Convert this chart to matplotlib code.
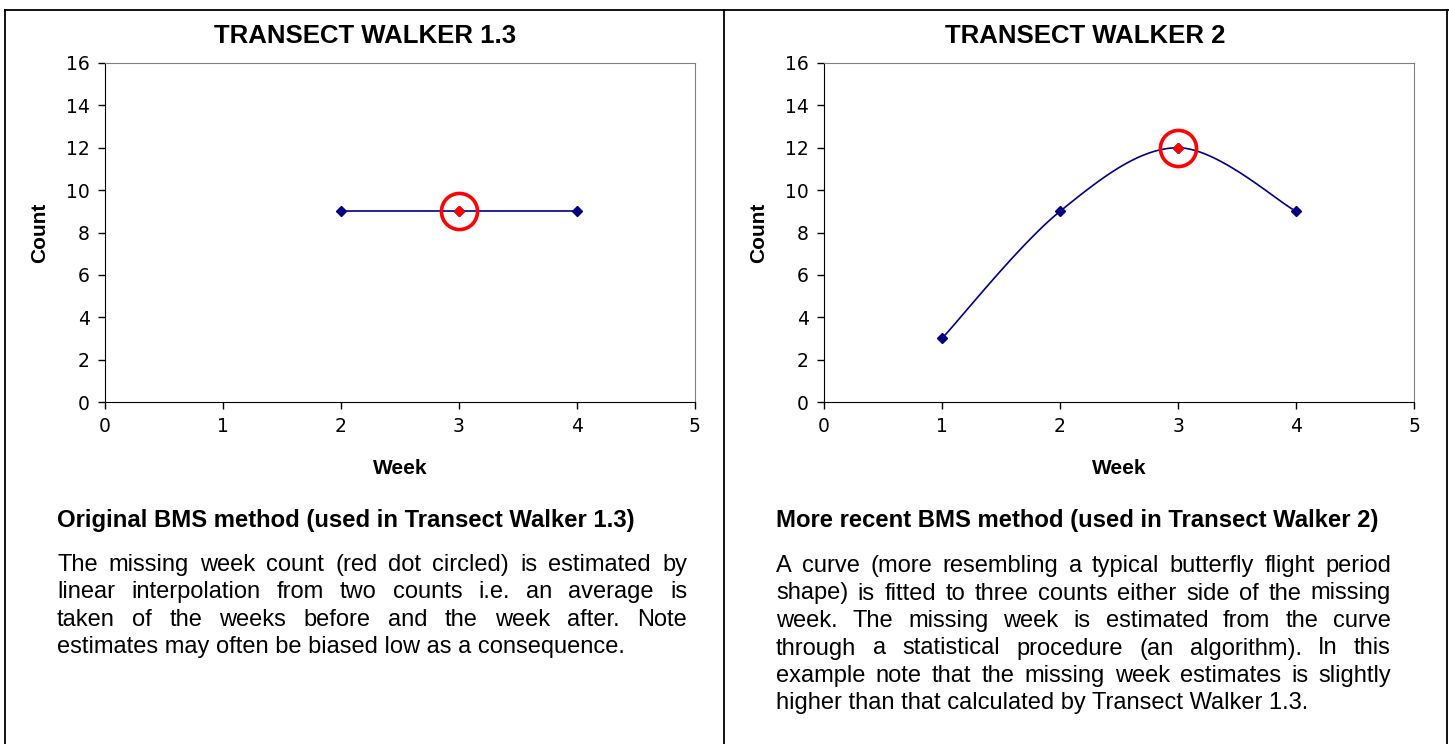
import matplotlib
matplotlib.use('Agg')
import matplotlib.pyplot as plt
import numpy as np
from matplotlib.lines import Line2D

plt.rcParams['font.family'] = ['Liberation Sans', 'DejaVu Sans']

# data
weeks_old = [2, 3, 4]
counts_old = [9, 9, 9]
weeks_new = [1, 2, 3, 4]
counts_new = [3, 9, 12, 9]
missing_week = 3
missing_old = 9
missing_new = 12

titles = ['TRANSECT WALKER 1.3', 'TRANSECT WALKER 2']
headings = ['Original BMS method (used in Transect Walker 1.3)',
            'More recent BMS method (used in Transect Walker 2)']
body_left = ['The missing week count (red dot circled) is estimated by',
             'linear interpolation from two counts i.e. an average is',
             'taken of the weeks before and the week after. Note',
             'estimates may often be biased low as a consequence.']
body_right = ['A curve (more resembling a typical butterfly flight period',
              'shape) is fitted to three counts either side of the missing',
              'week. The missing week is estimated from the curve',
              'through a statistical procedure (an algorithm). In this',
              'example note that the missing week estimates is slightly',
              'higher than that calculated by Transect Walker 1.3.']

W, H = 1449, 744
fig = plt.figure(figsize=(W / 100, H / 100), dpi=100)
navy = '#000080'


def smooth(x, y, n=30):
    # excel-like smoothed line (bezier through points)
    x = np.asarray(x, float)
    y = np.asarray(y, float)
    px = np.concatenate([[x[0]], x, [x[-1]]])
    py = np.concatenate([[y[0]], y, [y[-1]]])
    xs, ys = [], []
    t = np.linspace(0, 1, n)
    for i in range(1, len(px) - 2):
        p0 = np.array([px[i], py[i]])
        p3 = np.array([px[i + 1], py[i + 1]])
        p1 = p0 + (np.array([px[i + 1], py[i + 1]]) - np.array([px[i - 1], py[i - 1]])) / 6
        p2 = p3 - (np.array([px[i + 2], py[i + 2]]) - np.array([px[i], py[i]])) / 6
        b = ((1 - t) ** 3)[:, None] * p0 + (3 * (1 - t) ** 2 * t)[:, None] * p1 \
            + (3 * (1 - t) * t ** 2)[:, None] * p2 + (t ** 3)[:, None] * p3
        xs.extend(b[:, 0])
        ys.extend(b[:, 1])
    return xs, ys


def setup(ax):
    ax.set_xlim(0, 5)
    ax.set_ylim(0, 16)
    ax.set_xticks(range(0, 6))
    ax.set_yticks(range(0, 17, 2))
    ax.tick_params(direction='out', length=5, width=1, labelsize=13.5, pad=6)
    for lab in ax.get_xticklabels() + ax.get_yticklabels():
        lab.set_family('DejaVu Sans')
    ax.spines['top'].set_color('#808080')
    ax.spines['right'].set_color('#808080')
    for s in ['left', 'bottom']:
        ax.spines[s].set_color('black')
    ax.set_xlabel('Week', fontsize=15, fontweight='bold', labelpad=16)
    ax.set_ylabel('Count', fontsize=15, fontweight='bold', labelpad=12)


ax1 = fig.add_axes([105 / W, 1 - 402 / H, 590 / W, 339 / H])
setup(ax1)
ax1.plot(weeks_old, counts_old, color=navy, lw=1.2, marker='D', ms=5, zorder=3)
ax1.plot([missing_week], [missing_old], 'D', color='red', ms=5, zorder=4)
ax1.plot([missing_week], [missing_old], 'o', mfc='none', mec='red', ms=26, mew=2.6, zorder=5)

ax2 = fig.add_axes([824 / W, 1 - 402 / H, 590 / W, 339 / H])
setup(ax2)
sx, sy = smooth(weeks_new, counts_new)
ax2.plot(sx, sy, color=navy, lw=1.2, zorder=3)
ax2.plot(weeks_new, counts_new, 'D', color=navy, ms=5, zorder=3)
ax2.plot([missing_week], [missing_new], 'D', color='red', ms=5, zorder=4)
ax2.plot([missing_week], [missing_new], 'o', mfc='none', mec='red', ms=26, mew=2.6, zorder=5)

fig.text(365 / W, 1 - 36 / H, titles[0], ha='center', va='center', fontsize=18.5, fontweight='bold')
fig.text(1085 / W, 1 - 36 / H, titles[1], ha='center', va='center', fontsize=18.5, fontweight='bold')

fig.text(57 / W, 1 - 520 / H, headings[0], ha='left', va='center', fontsize=17.2, fontweight='bold')
fig.text(776 / W, 1 - 520 / H, headings[1], ha='left', va='center', fontsize=17.2, fontweight='bold')

# borders
for xs_, ys_ in [([5, W], [10, 10]), ([5, 5], [10, H]), ([724, 724], [10, H]), ([W - 2, W - 2], [10, H])]:
    fig.add_artist(Line2D([x / W for x in xs_], [1 - y / H for y in ys_], color='black', lw=1.3))

renderer = fig.canvas.get_renderer()
body_font = dict(fontsize=17)


def justified(lines, x0, x1, y0, dy):
    # y0 is the centre of the first line; words sit on a common baseline
    for k, line in enumerate(lines):
        y = 1 - (y0 + k * dy + 8) / H
        words = line.split()
        if k == len(lines) - 1:
            fig.text(x0 / W, y, line, ha='left', va='baseline', **body_font)
            continue
        arts = [fig.text(0, y, w_, ha='left', va='baseline', **body_font) for w_ in words]
        widths = [a.get_window_extent(renderer).width for a in arts]
        gap = (x1 - x0 - sum(widths)) / (len(words) - 1)
        x = x0
        for a, wd in zip(arts, widths):
            a.set_x(x / W)
            x += wd + gap


justified(body_left, 57, 687, 563, 27.4)
justified(body_right, 776, 1391, 564, 27.5)

fig.savefig('out.png', dpi=100)
